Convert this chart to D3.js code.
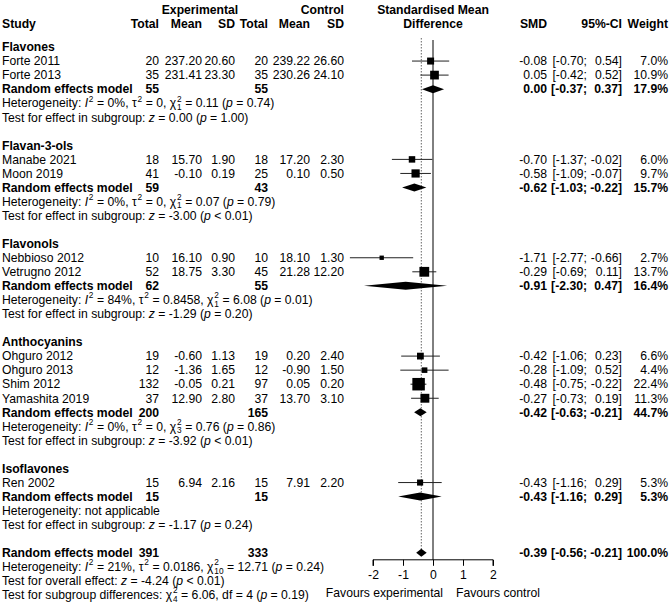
<!DOCTYPE html>
<html>
<head>
<meta charset="utf-8">
<script src="https://cdn.jsdelivr.net/npm/d3@7"></script>
<style>
  body { margin: 0; background: #fff; }
  svg text { font-family: "Liberation Sans", Arial, sans-serif; fill: #000; }
</style>
</head>
<body>
<div id="forest"></div>
<script>
"use strict"

// ---- data ----
const groups = ["Flavones", "Flavan-3-ols", "Flavonols", "Anthocyanins", "Isoflavones"];

// study rows: group index, name, exp total/mean/sd, ctrl total/mean/sd
const studyGroup = [0, 0, 1, 1, 2, 2, 3, 3, 3, 3, 4];
const studyNames = ["Forte 2011", "Forte 2013", "Manabe 2021", "Moon 2019", "Nebbioso 2012", "Vetrugno 2012",
  "Ohguro 2012", "Ohguro 2013", "Shim 2012", "Yamashita 2019", "Ren 2002"];
const expTotal = [20, 35, 18, 41, 10, 52, 19, 12, 132, 37, 15];
const expMean = [237.20, 231.41, 15.70, -0.10, 16.10, 18.75, -0.60, -1.36, -0.05, 12.90, 6.94];
const expSD = [20.60, 23.30, 1.90, 0.19, 0.90, 3.30, 1.13, 1.65, 0.21, 2.80, 2.16];
const ctrlTotal = [20, 35, 18, 25, 10, 45, 19, 12, 97, 37, 15];
const ctrlMean = [239.22, 230.26, 17.20, 0.10, 18.10, 21.28, 0.20, -0.90, 0.05, 13.70, 7.91];
const ctrlSD = [26.60, 24.10, 2.30, 0.50, 1.30, 12.20, 2.40, 1.50, 0.20, 3.10, 2.20];
const smd = [-0.08, 0.05, -0.70, -0.58, -1.71, -0.29, -0.42, -0.28, -0.48, -0.27, -0.43];
const ciLow = [-0.70, -0.42, -1.37, -1.09, -2.77, -0.69, -1.06, -1.09, -0.75, -0.73, -1.16];
const ciHigh = [0.54, 0.52, -0.02, -0.07, -0.66, 0.11, 0.23, 0.52, -0.22, 0.19, 0.29];
const weight = [7.0, 10.9, 6.0, 9.7, 2.7, 13.7, 6.6, 4.4, 22.4, 11.3, 5.3];

// subgroup random effects models
const grpExpTotal = [55, 59, 62, 200, 15];
const grpCtrlTotal = [55, 43, 55, 165, 15];
const grpSmd = [0.00, -0.62, -0.91, -0.42, -0.43];
const grpLow = [-0.37, -1.03, -2.30, -0.63, -1.16];
const grpHigh = [0.37, -0.22, 0.47, -0.21, 0.29];
const grpWeight = [17.9, 15.7, 16.4, 44.7, 5.3];
const grpI2 = ["0%", "0%", "84%", "0%", null];
const grpTau2 = ["0", "0", "0.8458", "0", null];
const grpChi2 = ["0.11", "0.07", "6.08", "0.76", null];
const grpDf = ["1", "1", "1", "3", null];
const grpPHet = ["= 0.74", "= 0.79", "= 0.01", "= 0.86", null];
const grpZ = ["0.00", "-3.00", "-1.29", "-3.92", "-1.17"];
const grpP = ["= 1.00", "< 0.01", "= 0.20", "< 0.01", "= 0.24"];

// overall model
const overall = {expTotal: 391, ctrlTotal: 333, smd: -0.39, low: -0.56, high: -0.21, weight: 100.0,
  i2: "21%", tau2: "0.0186", chi2: "12.71", df: "10", pHet: "= 0.24", z: "-4.24", p: "< 0.01",
  sgChi2: "6.06", sgDf: "4", sgP: "= 0.19"};

const axisTicks = [-2, -1, 0, 1, 2];

// ---- layout ----
const W = 669, H = 603;
const fs = 12.2;
const svg = d3.select("#forest").append("svg").attr("width", W).attr("height", H);

const x = d3.scaleLinear().domain([-2, 2]).range([373, 493]);
const nRows = 40;
const y = d3.scaleLinear().domain([0, nRows - 1]).range([47, 47 + (nRows - 1) * 14.05]);

const col = {study: 2, eTot: 159, eMean: 202, eSD: 235, cTot: 268, cMean: 310, cSD: 344,
  smd: 547, ciLo: 587, ciHi: 622, w: 668};

const f2 = d3.format(".2f");
const fm = v => f2(v).replace("−", "-");
const f1 = v => d3.format(".1f")(v) + "%";

function txt(xp, yp, s, anchor, bold) {
  return svg.append("text").attr("x", xp).attr("y", yp).attr("dy", "0.35em")
    .attr("text-anchor", anchor || "start").attr("font-size", fs)
    .attr("font-weight", bold ? "bold" : null).text(s);
}

// width of a string in the given size / style
const meas = svg.append("text").attr("x", 10).attr("y", 10).style("white-space", "pre")
  .attr("visibility", "hidden");
function widthOf(s, size, italic) {
  meas.attr("font-size", size).attr("font-style", italic ? "italic" : null).text(s);
  return meas.node().getComputedTextLength();
}

// rich text in a single <text>: segments {t, it} or {sup, sub}
function rich(xp, yp, segs) {
  const t = svg.append("text").attr("font-size", fs).style("white-space", "pre");
  const small = fs * 0.68;
  let cx = xp;
  segs.forEach(s => {
    if (s.sup !== undefined || s.sub !== undefined) {
      let wMax = 0;
      if (s.sup !== undefined) {
        t.append("tspan").attr("x", cx + 0.8).attr("y", yp - 4.5).attr("dy", "0.35em")
          .attr("font-size", small).text(s.sup);
        wMax = Math.max(wMax, widthOf(s.sup, small));
      }
      if (s.sub !== undefined) {
        t.append("tspan").attr("x", cx + 0.8).attr("y", yp + 3.8).attr("dy", "0.35em")
          .attr("font-size", small).text(s.sub);
        wMax = Math.max(wMax, widthOf(s.sub, small));
      }
      cx += wMax + 1;
    } else {
      t.append("tspan").attr("x", cx).attr("y", yp).attr("dy", "0.35em")
        .attr("font-style", s.it ? "italic" : null).text(s.t);
      cx += widthOf(s.t, fs, s.it);
    }
  });
}

function hetSegs(i2, tau2, chi2, df, p) {
  return [{t: "Heterogeneity: "}, {t: "I", it: true}, {sup: "2"}, {t: " = " + i2 + ", τ"}, {sup: "2"},
    {t: " = " + tau2 + ", χ"}, {sup: "2", sub: df}, {t: " = " + chi2 + " ("}, {t: "p", it: true},
    {t: " " + p + ")"}];
}
function testSegs(label, z, p) {
  return [{t: label + ": "}, {t: "z", it: true}, {t: " = " + z + " ("}, {t: "p", it: true}, {t: " " + p + ")"}];
}

// ---- header ----
txt(200, 10, "Experimental", "middle", true);
txt(col.cSD, 10, "Control", "end", true);
txt(x(0), 10, "Standardised Mean", "middle", true);
txt(col.study, 24, "Study", "start", true);
[["Total", col.eTot], ["Mean", col.eMean], ["SD", col.eSD], ["Total", col.cTot], ["Mean", col.cMean],
  ["SD", col.cSD], ["SMD", col.smd], ["95%-CI", col.ciHi], ["Weight", col.w]]
  .forEach(d => txt(d[1], 24, d[0], "end", true));
txt(x(0), 24, "Difference", "middle", true);

// ---- reference lines ----
const lastRow = 36;
svg.append("line").attr("x1", x(overall.smd)).attr("x2", x(overall.smd))
  .attr("y1", 38).attr("y2", y(lastRow))
  .attr("stroke", "#666").attr("stroke-width", 1).attr("stroke-dasharray", "1.5,1.5");
const axisY = y(lastRow) + 7;
svg.append("line").attr("x1", x(0)).attr("x2", x(0)).attr("y1", 40).attr("y2", axisY)
  .attr("stroke", "#000").attr("stroke-width", 1);

function ciCells(r, v, lo, hi, w, bold) {
  txt(col.smd, y(r), fm(v), "end", bold);
  txt(col.ciLo, y(r), "[" + fm(lo) + ";", "end", bold);
  txt(col.ciHi, y(r), fm(hi) + "]", "end", bold);
  txt(col.w, y(r), f1(w), "end", bold);
}

function diamond(r, v, lo, hi) {
  const yc = y(r), h = 4;
  svg.append("path")
    .attr("d", `M${x(lo)},${yc}L${x(v)},${yc - h}L${x(hi)},${yc}L${x(v)},${yc + h}Z`)
    .attr("fill", "#000");
}

// ---- subgroups ----
let r = 0;
groups.forEach((gName, g) => {
  txt(col.study, y(r), gName, "start", true);
  r++;
  studyNames.forEach((name, i) => {
    if (studyGroup[i] !== g) return;
    const yy = y(r);
    txt(col.study, yy, name);
    txt(col.eTot, yy, expTotal[i], "end");
    txt(col.eMean, yy, fm(expMean[i]), "end");
    txt(col.eSD, yy, fm(expSD[i]), "end");
    txt(col.cTot, yy, ctrlTotal[i], "end");
    txt(col.cMean, yy, fm(ctrlMean[i]), "end");
    txt(col.cSD, yy, fm(ctrlSD[i]), "end");
    svg.append("line").attr("x1", x(ciLow[i])).attr("x2", x(ciHigh[i])).attr("y1", yy).attr("y2", yy)
      .attr("stroke", "#222").attr("stroke-width", 1);
    const side = 12.5 * Math.sqrt(weight[i] / 22.4);
    svg.append("rect").attr("x", x(smd[i]) - side / 2).attr("y", yy - side / 2)
      .attr("width", side).attr("height", side).attr("fill", "#000");
    ciCells(r, smd[i], ciLow[i], ciHigh[i], weight[i], false);
    r++;
  });
  txt(col.study, y(r), "Random effects model", "start", true);
  txt(col.eTot, y(r), grpExpTotal[g], "end", true);
  txt(col.cTot, y(r), grpCtrlTotal[g], "end", true);
  diamond(r, grpSmd[g], grpLow[g], grpHigh[g]);
  ciCells(r, grpSmd[g], grpLow[g], grpHigh[g], grpWeight[g], true);
  r++;
  if (grpI2[g] === null) rich(col.study, y(r), [{t: "Heterogeneity: not applicable"}]);
  else rich(col.study, y(r), hetSegs(grpI2[g], grpTau2[g], grpChi2[g], grpDf[g], grpPHet[g]));
  r++;
  rich(col.study, y(r), testSegs("Test for effect in subgroup", grpZ[g], grpP[g]));
  r += 2;
});

// ---- overall ----
txt(col.study, y(r), "Random effects model", "start", true);
txt(col.eTot, y(r), overall.expTotal, "end", true);
txt(col.cTot, y(r), overall.ctrlTotal, "end", true);
diamond(r, overall.smd, overall.low, overall.high);
ciCells(r, overall.smd, overall.low, overall.high, overall.weight, true);
r++;
rich(col.study, y(r), hetSegs(overall.i2, overall.tau2, overall.chi2, overall.df, overall.pHet));
r++;
rich(col.study, y(r), testSegs("Test for overall effect", overall.z, overall.p));
r++;
rich(col.study, y(r), [{t: "Test for subgroup differences: χ"}, {sup: "2", sub: overall.sgDf},
  {t: " = " + overall.sgChi2 + ", df = " + overall.sgDf + " ("}, {t: "p", it: true}, {t: " " + overall.sgP + ")"}]);
meas.remove();

// ---- axis ----
const axis = d3.axisBottom(x).tickValues(axisTicks).tickSize(6).tickPadding(5);
const ag = svg.append("g").attr("transform", `translate(0,${axisY})`).call(axis);
ag.select(".domain").attr("d", `M${x(-2)},6V0H${x(2)}V6`).attr("stroke", "#000");
ag.selectAll(".tick line").attr("stroke", "#000");
ag.selectAll(".tick text").attr("font-size", fs).attr("font-family", "Liberation Sans, Arial, sans-serif")
  .text(d => d3.format("d")(d).replace("−", "-"));
txt(443, axisY + 33, "Favours experimental", "end");
txt(456, axisY + 33, "Favours control", "start");
</script>
</body>
</html>
